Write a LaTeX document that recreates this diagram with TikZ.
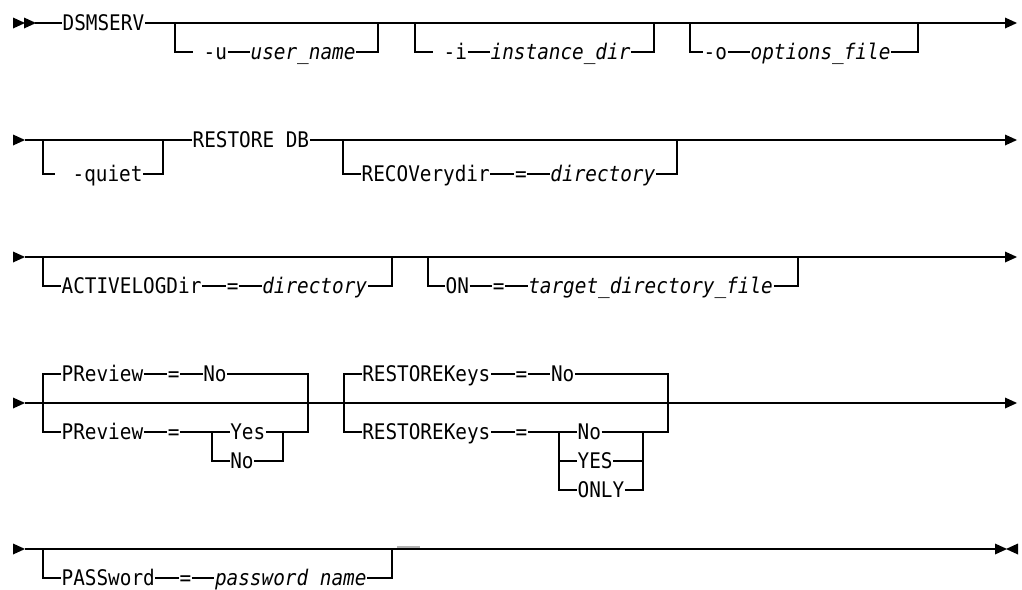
\documentclass[tikz,border=0pt]{standalone}
\usepackage{fontspec}
\setmonofont[FakeStretch=0.9]{DejaVu Sans Mono}
\newcommand\synfont{\fontsize{21.5}{24}\selectfont\ttfamily}
\newcommand\rtri[2]{\fill (#1-6,#2-5.5) -- (#1+6,#2) -- (#1-6,#2+5.5) -- cycle;}
\newcommand\ltri[2]{\fill (#1+6,#2-5.5) -- (#1-6,#2) -- (#1+6,#2+5.5) -- cycle;}
\begin{document}
\begin{tikzpicture}[x=1pt,y=-1pt,line width=1.3pt,
  every node/.style={inner sep=0pt,anchor=west,text height=15.5pt,text depth=0pt,font=\synfont},
  var/.style={font=\synfont\itshape}]
\useasboundingbox (0,0) rectangle (1022,589);

% ---------------- Row 1
\rtri{19}{23}\rtri{30}{23}
\coordinate (s1) at (35,23);
\coordinate (e1) at (1005,23);
\rtri{1011}{23}
\node (dsm) at (62,23) {DSMSERV};
\draw (s1) -- (dsm.west);
\draw (dsm.east) -- (e1);
% -u
\coordinate (ua) at (175,23); \coordinate (us) at (193,52); \coordinate (ub) at (378,23);
\node (uopt) at (203,52) {-u};
\node[var] (uvar) at (250,52) {user\_name};
\draw (ua) |- (us);
\draw (uopt.east) -- (uvar.west);
\draw (uvar.east) -| (ub);
% -i
\coordinate (ia) at (415,23); \coordinate (is) at (433,52); \coordinate (ib) at (654,23);
\node (iopt) at (443,52) {-i};
\node[var] (ivar) at (490,52) {instance\_dir};
\draw (ia) |- (is);
\draw (iopt.east) -- (ivar.west);
\draw (ivar.east) -| (ib);
% -o
\coordinate (oa) at (690,23); \coordinate (ob) at (918,23);
\node (oopt) at (703,52) {-o};
\node[var] (ovar) at (750,52) {options\_file};
\draw (oa) |- (oopt.west);
\draw (oopt.east) -- (ovar.west);
\draw (ovar.east) -| (ob);

% ---------------- Row 2
\rtri{19}{140}
\coordinate (s2) at (25,140);
\coordinate (e2) at (1005,140);
\rtri{1011}{140}
\node (rdb) at (192,140) {RESTORE DB};
\draw (s2) -- (rdb.west);
\draw (rdb.east) -- (e2);
\coordinate (qa) at (43,140); \coordinate (qs) at (55,174); \coordinate (qb) at (163,140);
\node (quiet) at (72,174) {-quiet};
\draw (qa) |- (qs);
\draw (quiet.east) -| (qb);
\coordinate (ra) at (343,140); \coordinate (rb) at (677,140);
\node (rec) at (361,174) {RECOVerydir};
\node (req) at (514.4,174) {=};
\node[var] (rdir) at (549.8,174) {directory};
\draw (ra) |- (rec.west);
\draw (rec.east) -- (req.west);
\draw (req.east) -- (rdir.west);
\draw (rdir.east) -| (rb);

% ---------------- Row 3
\rtri{19}{257}
\coordinate (s3) at (25,257);
\coordinate (e3) at (1005,257);
\rtri{1011}{257}
\draw (s3) -- (e3);
\coordinate (aa) at (43,257); \coordinate (ab) at (392,257);
\node (act) at (61,286) {ACTIVELOGDir};
\node (aeq) at (226.2,286) {=};
\node[var] (adir) at (261.6,286) {directory};
\draw (aa) |- (act.west);
\draw (act.east) -- (aeq.west);
\draw (aeq.east) -- (adir.west);
\draw (adir.east) -| (ab);
\coordinate (na) at (428,257); \coordinate (nb) at (798,257);
\node (on) at (445,286) {ON};
\node (neq) at (492.2,286) {=};
\node[var] (ndir) at (527.6,286) {target\_directory\_file};
\draw (na) |- (on.west);
\draw (on.east) -- (neq.west);
\draw (neq.east) -- (ndir.west);
\draw (ndir.east) -| (nb);

% ---------------- Row 4
\rtri{19}{403}
\coordinate (s4) at (25,403);
\coordinate (e4) at (1005,403);
\rtri{1011}{403}
\draw (s4) -- (e4);
% PReview
\coordinate (pL1) at (43,374); \coordinate (pL2) at (43,432);
\coordinate (pR1) at (308,374); \coordinate (pR2) at (308,432);
\coordinate (pi1) at (212,432); \coordinate (pi2) at (283,432);
\node (pu) at (61,374) {PReview};
\node (puq) at (167.2,374) {=};
\node (pun) at (202.6,374) {No};
\node (pl) at (61,432) {PReview};
\node (plq) at (167.2,432) {=};
\node (ply) at (229.6,432) {Yes};
\node (pln) at (229.6,461) {No};
\draw (pu.west) -- (pL1) -- (pL2) -- (pl.west);
\draw (pu.east) -- (puq.west);
\draw (puq.east) -- (pun.west);
\draw (pun.east) -- (pR1) -- (pR2) -- (pi2);
\draw (pl.east) -- (plq.west);
\draw (plq.east) -- (pi1) -- (ply.west);
\draw (pi1) |- (pln.west);
\draw (ply.east) -- (pi2);
\draw (pln.east) -| (pi2);
% RESTOREKeys
\coordinate (kL1) at (344,374); \coordinate (kL2) at (344,432);
\coordinate (kR1) at (668,374); \coordinate (kR2) at (668,432);
\coordinate (ki1) at (559,432); \coordinate (ki2) at (643,432);
\node (ku) at (361.6,374) {RESTOREKeys};
\node (kuq) at (515,374) {=};
\node (kun) at (550.4,374) {No};
\node (kl) at (361.6,432) {RESTOREKeys};
\node (klq) at (515,432) {=};
\node (kno) at (577,432) {No};
\node (kyes) at (577,461) {YES};
\node (konly) at (577,490) {ONLY};
\draw (ku.west) -- (kL1) -- (kL2) -- (kl.west);
\draw (ku.east) -- (kuq.west);
\draw (kuq.east) -- (kun.west);
\draw (kun.east) -- (kR1) -- (kR2) -- (ki2);
\draw (kl.east) -- (klq.west);
\draw (klq.east) -- (ki1) -- (kno.west);
\draw (ki1) |- (kyes.west);
\draw (ki1) |- (konly.west);
\draw (kno.east) -- (ki2);
\draw (kyes.east) -| (ki2);
\draw (konly.east) -| (ki2);

% ---------------- Row 5
\rtri{19}{549}
\coordinate (s5) at (25,549);
\coordinate (e5) at (995,549);
\rtri{1001}{549}\ltri{1012}{549}
\draw (s5) -- (e5);
\coordinate (wa) at (43,549); \coordinate (wb) at (392,549);
\node (pw) at (61,578) {PASSword};
\node (pweq) at (179,578) {=};
\node[var] (pwv) at (214.4,578) {password name};
\draw (wa) |- (pw.west);
\draw (pw.east) -- (pweq.west);
\draw (pweq.east) -- (pwv.west);
\draw (pwv.east) -| (wb);
\coordinate (g1) at (397,547); \coordinate (g2) at (420,547);
\draw[gray!60,line width=1.4pt] (g1) -- (g2);
\end{tikzpicture}
\end{document}
